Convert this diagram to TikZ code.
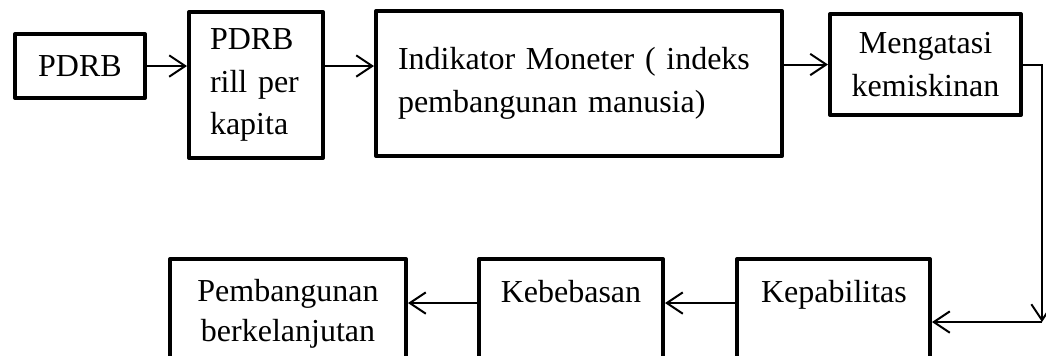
\documentclass[tikz,border=0pt]{standalone}
\usepackage{fontspec}
\setmainfont{Liberation Serif}
\usetikzlibrary{arrows.meta}
\begin{document}
\begin{tikzpicture}[x=0.75pt,y=-0.75pt,
  box/.style 2 args={draw, line width=3pt, line join=round,
    minimum width=#1*0.75pt, minimum height=#2*0.75pt, inner sep=0pt,
    font=\fontsize{24}{32}\selectfont},
  lbl/.style={inner sep=0pt, font=\fontsize{24}{30}\selectfont},
  arr/.style={line width=1.5pt,
    -{Straight Barb[length=12pt,width=16pt,line width=1.5pt]}}]
\useasboundingbox (0,0) rectangle (1046,355);
\clip (0,0) rectangle (1046,355);

% upper row
\node[box={130}{64}] (b1) at (80,66) {PDRB};
\node[box={134}{146}, align=left, text width=69pt] (b2) at (256,85)
  {PDRB\\rill per\\kapita};
\node[box={406}{145}, align=left, text width=271.5pt] (b3) at (579,83.5)
  {Indikator Moneter ( indeks\\pembangunan manusia)};
\node[box={191}{101}, align=center] (b4) at (925.5,64.5)
  {Mengatasi\\kemiskinan};

% lower row (boxes run past the lower edge)
\node[box={236}{121}] (b5) at (288,319.5) {};
\node[box={184}{121}] (b6) at (571,319.5) {};
\node[box={193}{121}] (b7) at (833.5,319.5) {};
\node[lbl, align=center, anchor=base] (t5) at (288,341) {Pembangunan\\berkelanjutan};
\node[lbl, anchor=base] (t6) at (571,302) {Kebebasan};
\node[lbl, anchor=base] (t7) at (834,302) {Kepabilitas};

% connectors
\coordinate (turn) at (1042,322);
\coordinate (low) at (0,303);
\draw[arr] (b1.east) -- (b1.east -| b2.west);
\draw[arr] (b2.east |- 0,66) -- (b3.west |- 0,66);
\draw[arr] (b3.east |- b4.east) -- (b4.west);
\draw[arr] (b4.east) -| (turn);
\draw[arr] (turn) -- (turn -| b7.east);
\draw[arr] (b7.west |- low) -- (b6.east |- low);
\draw[arr] (b6.west |- low) -- (b5.east |- low);
\end{tikzpicture}
\end{document}
